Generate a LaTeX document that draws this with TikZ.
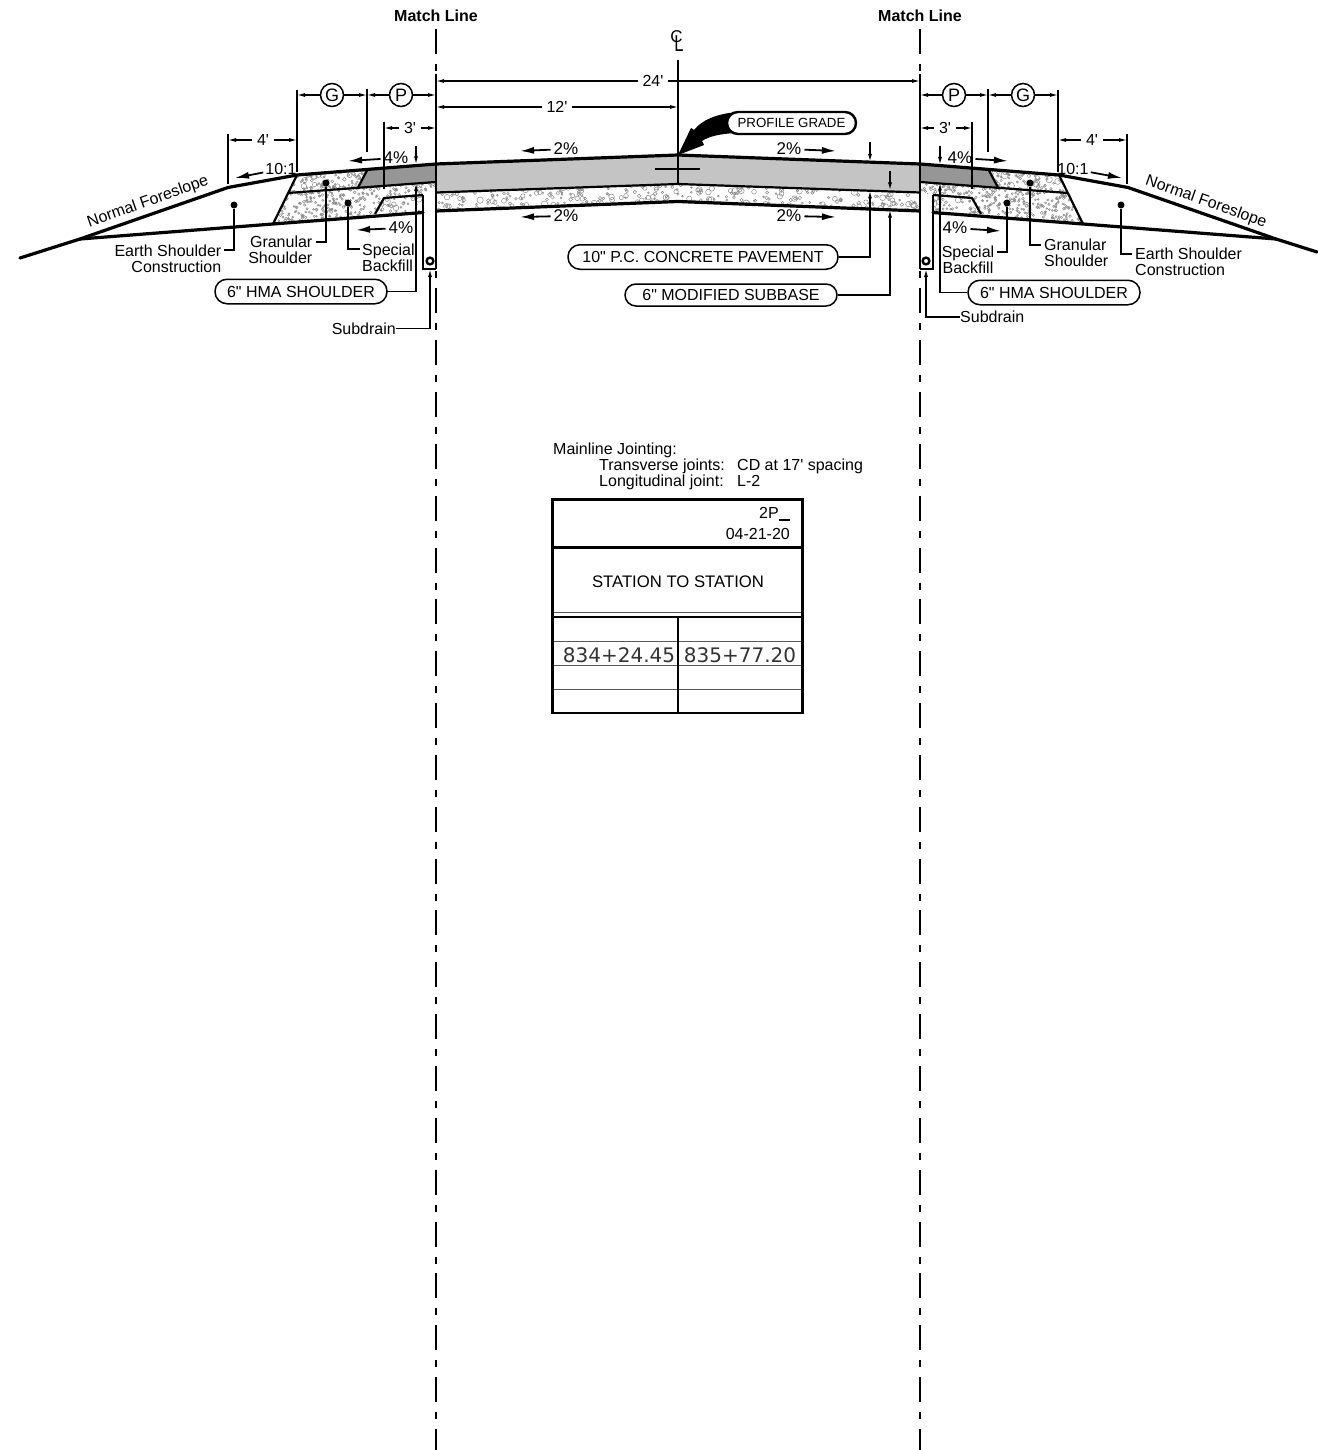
\documentclass[tikz,border=0pt]{standalone}
\usepackage{fontspec}
\setmainfont{Liberation Sans}[Ligatures=TeXOff]
\newfontfamily\stationfont{DejaVu Sans}
\usetikzlibrary{arrows.meta,positioning,calc}

\definecolor{pavegray}{HTML}{C4C4C4}
\definecolor{hmagray}{HTML}{969696}
\definecolor{pebblegray}{HTML}{8A8A8A}

% scatter of little stones, corner x, corner y, width, height, count, largest radius
\newcommand{\pebbles}[6]{%
	\foreach \n in {1,...,#5} {
		\pgfmathsetmacro{\px}{#1+rnd*#3}
		\pgfmathsetmacro{\py}{#2+rnd*#4}
		\pgfmathsetmacro{\pr}{0.9+rnd*rnd*#6}
		\draw [pebble] (\px,\py) circle [radius=\pr];
	}%
}

% one shoulder, drawn for the left side, #1 is where the foreslope runs out
\newcommand{\shoulderside}[1]{%
	\fill [hmagray] (367,170.5) -- (436,164) -- (436,182) -- (358,187.5) -- cycle;
	\begin{scope}
		\clip (297,175) -- (367,170.5) -- (358,187.5) -- (288,193) -- cycle;
		\pebbles{285}{168}{85}{26}{70}{3}
		\pebbles{285}{168}{85}{26}{60}{0.6}
	\end{scope}
	\begin{scope}
		\clip (288,193) -- (436,182) -- (436,194) -- (423,195) -- (384,198) -- (375,214) -- (273,224) -- cycle;
		\pebbles{272}{181}{165}{44}{520}{0.8}
	\end{scope}
	\begin{scope}
		\clip (384,198) -- (423,195) -- (423,213) -- (375,214) -- cycle;
		\pebbles{374}{194}{50}{21}{30}{3.5}
		\pebbles{374}{194}{50}{21}{20}{0.6}
	\end{scope}
	\fill [white] (423,194) rectangle (436,269);
	\draw [road] (#1) -- (80,239) -- (228,187.5) -- (297,175) -- (436,164);
	\draw [road] (80,239) -- (273,224) -- (423,212.5);
	\draw [layer] (297,175) -- (273,224);
	\draw [layer] (288,193) -- (436,182);
	\draw [layer] (367,170.5) -- (358,187.5);
	\draw [layer] (375,214) -- (384,198) -- (423,195);
	\draw [trench] (423,195) -- (423,269) -- (436,269);
	\draw [drain] (430,261) circle [radius=3.4];
}

\begin{document}
\begin{tikzpicture}[x=1pt,y=-1pt,
		every node/.style={font=\fontsize{16}{16}\selectfont,inner sep=0pt},
		>={Latex[length=8pt,width=4pt]},
		pebble/.style={draw=pebblegray,line width=0.5pt},
		road/.style={line width=3.2pt,line cap=round,line join=round},
		layer/.style={line width=2.2pt,line join=round},
		trench/.style={line width=1.4pt},
		drain/.style={line width=2.4pt},
		match/.style={line width=1.6pt,dash pattern=on 25pt off 10pt on 7pt off 9.85pt},
		ext/.style={line width=1.4pt},
		dim/.style={->,line width=1.2pt},
		slope/.style={-{Latex[length=14pt,width=7pt]},line width=1.8pt},
		slopetext/.style={font=\fontsize{17}{17}\selectfont,inner xsep=3pt},
		leader/.style={line width=1.4pt},
		leaderarrow/.style={->,line width=1.4pt},
		pointdot/.style={circle,fill=black,minimum size=7pt},
		pill/.style={rectangle,rounded corners=12pt,draw,line width=1.5pt,fill=white},
		circled/.style={circle,draw,line width=1.5pt,minimum size=23pt,fill=white,font=\fontsize{18}{18}\selectfont},
		dimtext/.style={fill=white,inner xsep=4.5pt,inner ysep=1pt,text depth=0pt},
		tablerule/.style={line width=1pt,draw=black!65}]
		\useasboundingbox (0,0) rectangle (1317,1450);
		\pgfmathsetseed{41}

		% pavement and subbase
		\fill [pavegray] (436,164) -- (678,155) -- (920,164) -- (920,192.5) -- (678,184) -- (436,192.5) -- cycle;
		\begin{scope}
			\clip (436,192.5) -- (678,184) -- (920,192.5) -- (920,211) -- (678,201.5) -- (436,211) -- cycle;
			\pebbles{436}{183}{484}{29}{420}{3}
		\end{scope}
		\draw [road] (436,164) -- (678,155) -- (920,164);
		\draw [layer] (436,192.5) -- (678,184) -- (920,192.5);
		\draw [road] (436,211) -- (678,201.5) -- (920,211);

		% shoulders
		\shoulderside{20,258}
		\begin{scope}[shift={(1356,0)},xscale=-1]
			\shoulderside{39,252}
		\end{scope}

		% match lines
		\coordinate (match-left) at (436,29);
		\coordinate (match-right) at (920,29);
		\node [font=\fontsize{16}{16}\selectfont\bfseries] (match-left-text) at (436,16) {Match Line};
		\node [font=\fontsize{16}{16}\selectfont\bfseries] (match-right-text) at (920,16) {Match Line};
		\draw [match] (match-left) -- (436,1450);
		\draw [match] (match-right) -- (920,1450);
		\draw [ext] (436,74) -- (436,269);
		\draw [ext] (920,74) -- (920,269);

		% centerline
		\node [font=\fontsize{17}{17}\selectfont] (cl-c) at (676.5,37) {C};
		\node [font=\fontsize{23}{23}\selectfont,xscale=0.72] (cl-l) at (679,43.5) {L};
		\draw [ext] (678,60) -- (678,184);
		\draw [line width=2.2pt] (655,169) -- (700,169);

		% top dimensions
		\node [dimtext] (dim-24) at (653,81) {24'};
		\draw [dim] (dim-24) -- (match-left |- dim-24);
		\draw [dim] (dim-24) -- (match-right |- dim-24);
		\node [dimtext] (dim-12) at (557,107) {12'};
		\draw [dim] (dim-12) -- (match-left |- dim-12);
		\draw [dim] (dim-12) -- (678,107);

		% left shoulder dimensions
		\coordinate (ext-g-left) at (297,90);
		\coordinate (ext-p-left) at (367,89);
		\coordinate (ext-3-left) at (384,122);
		\coordinate (ext-4-left) at (228,134);
		\draw [ext] (ext-g-left) -- (297,172);
		\draw [ext] (ext-p-left) -- (367,152);
		\draw [ext] (ext-3-left) -- (384,189);
		\draw [ext] (ext-4-left) -- (228,184);
		\node [circled] (g-left) at (332,95) {G};
		\node [circled] (p-left) at (401,95) {P};
		\draw [dim] (g-left) -- (ext-g-left |- g-left);
		\draw [dim] (g-left) -- (ext-p-left |- g-left);
		\draw [dim] (p-left) -- (ext-p-left |- p-left);
		\draw [dim] (p-left) -- (match-left |- p-left);
		\node [dimtext] (dim-3-left) at (410,128) {3'};
		\draw [dim] (dim-3-left) -- (ext-3-left |- dim-3-left);
		\draw [dim] (dim-3-left) -- (match-left |- dim-3-left);
		\node [dimtext] (dim-4-left) at (263,140) {4'};
		\draw [dim] (dim-4-left) -- (ext-4-left |- dim-4-left);
		\draw [dim] (dim-4-left) -- (ext-g-left |- dim-4-left);

		% right shoulder dimensions
		\coordinate (ext-g-right) at (1058,90);
		\coordinate (ext-p-right) at (988,89);
		\coordinate (ext-3-right) at (972,122);
		\coordinate (ext-4-right) at (1127,134);
		\draw [ext] (ext-g-right) -- (1058,172);
		\draw [ext] (ext-p-right) -- (988,152);
		\draw [ext] (ext-3-right) -- (972,189);
		\draw [ext] (ext-4-right) -- (1127,184);
		\node [circled] (p-right) at (954,95) {P};
		\node [circled] (g-right) at (1023,95) {G};
		\draw [dim] (p-right) -- (match-right |- p-right);
		\draw [dim] (p-right) -- (ext-p-right |- p-right);
		\draw [dim] (g-right) -- (ext-p-right |- g-right);
		\draw [dim] (g-right) -- (ext-g-right |- g-right);
		\node [dimtext] (dim-3-right) at (945,128) {3'};
		\draw [dim] (dim-3-right) -- (match-right |- dim-3-right);
		\draw [dim] (dim-3-right) -- (ext-3-right |- dim-3-right);
		\node [dimtext] (dim-4-right) at (1092,140) {4'};
		\draw [dim] (dim-4-right) -- (ext-g-right |- dim-4-right);
		\draw [dim] (dim-4-right) -- (ext-4-right |- dim-4-right);

		% slopes
		\node [slopetext] (slope-a) at (566,149) {2\%};
		\node [slopetext] (slope-b) at (789,149) {2\%};
		\node [slopetext] (slope-c) at (566,216) {2\%};
		\node [slopetext] (slope-d) at (789,216) {2\%};
		\node [slopetext] (slope-e) at (396,158) {4\%};
		\node [slopetext] (slope-f) at (960,158) {4\%};
		\node [slopetext] (slope-g) at (401,228) {4\%};
		\node [slopetext] (slope-h) at (955,228) {4\%};
		\node [inner xsep=2pt] (slope-i) at (281,169) {10:1};
		\node [inner xsep=2pt] (slope-j) at (1073,169) {10:1};
		\coordinate (slope-a-end) at (520,151);
		\coordinate (slope-b-end) at (836,151);
		\coordinate (slope-c-end) at (520,217);
		\coordinate (slope-d-end) at (836,217);
		\coordinate (slope-e-end) at (348,161);
		\coordinate (slope-f-end) at (1008,161);
		\coordinate (slope-g-end) at (356,230);
		\coordinate (slope-h-end) at (1001,231);
		\coordinate (slope-i-end) at (235,178);
		\coordinate (slope-j-end) at (1122,178);
		\foreach \s in {a,b,c,d,e,f,g,h,i,j}
			\draw [slope] (slope-\s) -- (slope-\s-end);

		% foreslope labels
		\node [rotate=19.5] (fore-left) at (148,202) {Normal Foreslope};
		\node [rotate=-19.5] (fore-right) at (1206,202) {Normal Foreslope};

		% profile grade
		\fill (737,112) .. controls (716,114) and (702,120) .. (694,130) -- (691,128) -- (678,155) -- (704,145) -- (702,141) .. controls (710,136) and (720,134) .. (735,133) -- cycle;
		\node [pill,rounded corners=11pt,line width=2.4pt,minimum height=22pt,minimum width=129pt,font=\fontsize{13.3}{14}\selectfont] (profile) at (791.5,123) {PROFILE GRADE};

		% left shoulder labels
		\node [pointdot] (earth-left-dot) at (234,205) {};
		\node [align=right,anchor=east] (earth-left) at (221.5,259) {Earth Shoulder\\Construction};
		\coordinate (earth-left-end) at (224,250);
		\draw [leader] (earth-left-dot) |- (earth-left-end);
		\node [pointdot] (granular-left-dot) at (326,183) {};
		\node [align=right,anchor=east] (granular-left) at (312.5,250) {Granular\\Shoulder};
		\coordinate (granular-left-end) at (316,242);
		\draw [leader] (granular-left-dot) |- (granular-left-end);
		\node [pointdot] (backfill-left-dot) at (348,203) {};
		\node [align=left,anchor=west] (backfill-left) at (362,258) {Special\\Backfill};
		\coordinate (backfill-left-end) at (360,249);
		\draw [leader] (backfill-left-dot) |- (backfill-left-end);
		\node [pill,minimum height=24.5pt,minimum width=172pt] (hma-left) at (301,291.5) {6" HMA SHOULDER};
		\coordinate (hma-left-top) at (416,146);
		\coordinate (hma-left-tip) at (416,164.5);
		\coordinate (hma-left-under) at (416,183);
		\draw [leaderarrow] (hma-left-top) -- (hma-left-tip);
		\draw [leaderarrow] (hma-left) -| (hma-left-under);
		\node [anchor=east] (subdrain-left) at (396,328.5) {Subdrain};
		\coordinate (subdrain-left-tip) at (430,269);
		\draw [leaderarrow] (subdrain-left) -| (subdrain-left-tip);

		% right shoulder labels
		\node [pointdot] (earth-right-dot) at (1121,205) {};
		\node [align=left,anchor=west] (earth-right) at (1135,262) {Earth Shoulder\\Construction};
		\coordinate (earth-right-end) at (1132,254);
		\draw [leader] (earth-right-dot) |- (earth-right-end);
		\node [pointdot] (granular-right-dot) at (1030,183) {};
		\node [align=left,anchor=west] (granular-right) at (1044,253) {Granular\\Shoulder};
		\coordinate (granular-right-end) at (1041,245);
		\draw [leader] (granular-right-dot) |- (granular-right-end);
		\node [pointdot] (backfill-right-dot) at (1007,203) {};
		\node [align=center] (backfill-right) at (968,260) {Special\\Backfill};
		\coordinate (backfill-right-end) at (997,252);
		\draw [leader] (backfill-right-dot) |- (backfill-right-end);
		\node [pill,minimum height=24.5pt,minimum width=172pt] (hma-right) at (1054,292.5) {6" HMA SHOULDER};
		\coordinate (hma-right-top) at (940,146);
		\coordinate (hma-right-tip) at (940,165);
		\coordinate (hma-right-under) at (940,182.5);
		\draw [leaderarrow] (hma-right-top) -- (hma-right-tip);
		\draw [leaderarrow] (hma-right) -| (hma-right-under);
		\node [anchor=west] (subdrain-right) at (960,317) {Subdrain};
		\coordinate (subdrain-right-tip) at (926,269);
		\draw [leaderarrow] (subdrain-right) -| (subdrain-right-tip);

		% pavement and subbase callouts
		\node [pill,minimum height=24.5pt,minimum width=270pt] (concrete) at (703,257) {10" P.C. CONCRETE PAVEMENT};
		\node [pill,rounded corners=11pt,minimum height=22pt,minimum width=212pt] (subbase) at (731,295) {6" MODIFIED SUBBASE};
		\coordinate (concrete-top) at (870,142);
		\coordinate (concrete-tip) at (870,162);
		\coordinate (concrete-under) at (870,190.5);
		\coordinate (subbase-top) at (890,171);
		\coordinate (subbase-tip) at (890,190.5);
		\coordinate (subbase-under) at (890,209.5);
		\draw [leaderarrow] (concrete-top) -- (concrete-tip);
		\draw [leaderarrow] (concrete) -| (concrete-under);
		\draw [leaderarrow] (subbase-top) -- (subbase-tip);
		\draw [leaderarrow] (subbase) -| (subbase-under);

		% jointing note
		\node [anchor=base west] (joint-title) at (553,454) {Mainline Jointing:};
		\node [anchor=base west] (joint-trans) at (599,470) {Transverse joints:};
		\node [anchor=base west] (joint-long) at (599,486) {Longitudinal joint:};
		\node [anchor=base west] (joint-trans-value) at (737,470) {CD at 17' spacing};
		\node [anchor=base west] (joint-long-value) at (737,486) {L-2};

		% station table
		\draw [tablerule] (552.5,612.5) -- (802.5,612.5);
		\draw [line width=1.3pt] (552.5,617) -- (802.5,617);
		\foreach \rowy in {641,665,689}
			\draw [tablerule] (552.5,\rowy) -- (802.5,\rowy);
		\draw [line width=1.2pt] (678,617) -- (678,713);
		\draw [line width=2.6pt] (552.5,547.5) -- (802.5,547.5);
		\draw [line width=2.6pt] (552.5,499.5) rectangle (802.5,713);
		\node [anchor=east] (table-code) at (790,514) {2P\rule[-2pt]{11pt}{2pt}};
		\node [anchor=east] (table-date) at (790,534) {04-21-20};
		\node [font=\fontsize{16.7}{17}\selectfont] (table-title) at (678,581.5) {STATION TO STATION};
		\node [font=\fontsize{20}{20}\stationfont,text=black!80,text depth=0pt] (station-from) at (619,655) {834+24.45};
		\node [font=\fontsize{20}{20}\stationfont,text=black!80,text depth=0pt] (station-to) at (740,655) {835+77.20};
\end{tikzpicture}
\end{document}
